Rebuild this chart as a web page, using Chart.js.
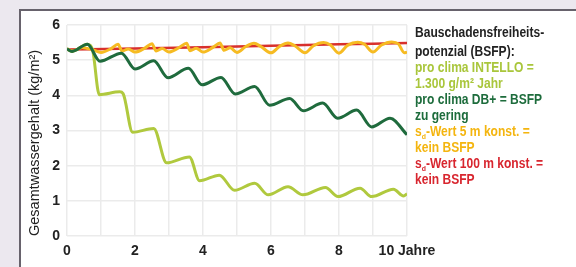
<!DOCTYPE html>
<html lang="de">
<head>
<meta charset="UTF-8">
<title>Gesamtwassergehalt</title>
<script src="https://cdn.jsdelivr.net/npm/chart.js"></script>
<style>
    body {
        margin: 0;
        width: 576px;
        height: 267px;
        overflow: hidden;
        position: relative;
        background: #ece8ef;
        font-family: "Liberation Sans", Arial, sans-serif;
    }
    .panel {
        position: absolute;
        left: 19px;
        top: 9px;
        width: 600px;
        height: 300px;
        background: #fff;
        border: 2px solid #67626c;
    }
    #chart {
        position: absolute;
        left: 0;
        top: 0;
    }
    .legend {
        position: absolute;
        left: 415px;
        top: 24px;
        font-family: "Liberation Sans", Arial, sans-serif;
        font-weight: bold;
        font-size: 14px;
        line-height: 16px;
        white-space: nowrap;
        transform: scaleX(0.86);
        transform-origin: left top;
    }
    .legend div { height: 16px; }
    .legend sub {
        font-size: 8px;
        line-height: 0;
        vertical-align: baseline;
        position: relative;
        top: 3px;
    }
    .c-head { color: #222; }
    .c-intello { color: #a9c63b; }
    .c-db { color: #1d6c3c; }
    .c-sd5 { color: #f4b50f; }
    .c-sd100 { color: #d8262f; }
</style>
</head>
<body>
<div class="panel"></div>
<canvas id="chart" width="576" height="267"></canvas>
<div class="legend">
    <div class="c-head" style="margin-bottom:3px">Bauschadensfreiheits-</div>
    <div class="c-head">potenzial (BSFP):</div>
    <div class="c-intello">pro clima INTELLO =</div>
    <div class="c-intello">1.300 g/m² Jahr</div>
    <div class="c-db">pro clima DB+ = BSFP</div>
    <div class="c-db">zu gering</div>
    <div class="c-sd5">s<sub>d</sub>-Wert 5 m konst. =</div>
    <div class="c-sd5">kein BSFP</div>
    <div class="c-sd100">s<sub>d</sub>-Wert 100 m konst. =</div>
    <div class="c-sd100">kein BSFP</div>
</div>

<script>
// x axis ticks (years)
const xTicks = [0, 2, 4, 6, 8, 10];
const xTickLabels = ['0', '2', '4', '6', '8', '10 Jahre'];

// pro clima DB+
const dbYears = [0, 0.15, 0.6, 0.97, 1.6, 2.0, 2.55, 2.97, 3.57, 3.97, 4.53, 4.95, 5.52, 5.96, 6.55, 6.95, 7.52, 7.96, 8.52, 8.96, 9.5, 10];
const dbValues = [5.32, 5.25, 5.45, 4.97, 5.2, 4.75, 4.98, 4.5, 4.77, 4.3, 4.51, 4.04, 4.25, 3.72, 3.91, 3.56, 3.78, 3.35, 3.58, 3.1, 3.35, 2.88];

// pro clima INTELLO
const intelloYears = [0, 0.15, 0.6, 0.75, 0.95, 1.55, 1.65, 1.93, 2.55, 2.93, 3.6, 3.9, 4.48, 4.93, 5.52, 5.92, 6.5, 6.94, 7.6, 7.97, 8.62, 8.96, 9.6, 9.9, 10];
const intelloValues = [5.32, 5.25, 5.45, 5.3, 4.02, 4.1, 4.05, 2.95, 3.06, 2.08, 2.25, 1.57, 1.73, 1.3, 1.5, 1.17, 1.4, 1.17, 1.38, 1.12, 1.36, 1.12, 1.33, 1.14, 1.2];

// sd-Wert 5 m
const sd5Years = [0, 0.15, 0.45, 0.6, 0.75, 1.0, 1.3, 1.5, 1.62, 1.8, 2.0, 2.3, 2.5, 2.62, 2.8, 3.0, 3.3, 3.52, 3.62, 3.8, 4.0, 4.3, 4.5, 4.62, 4.8, 5.0, 5.25, 5.5, 5.7, 6.0, 6.25, 6.5, 6.7, 7.0, 7.25, 7.55, 7.75, 8.0, 8.25, 8.55, 8.75, 9.0, 9.25, 9.55, 9.75, 9.92, 10];
const sd5Values = [5.32, 5.26, 5.36, 5.33, 5.3, 5.22, 5.33, 5.45, 5.26, 5.32, 5.23, 5.35, 5.47, 5.26, 5.33, 5.23, 5.36, 5.48, 5.27, 5.34, 5.23, 5.37, 5.49, 5.28, 5.35, 5.22, 5.38, 5.48, 5.39, 5.21, 5.39, 5.49, 5.41, 5.21, 5.41, 5.5, 5.43, 5.2, 5.42, 5.51, 5.45, 5.23, 5.43, 5.52, 5.46, 5.21, 5.23];

// sd-Wert 100 m
const sd100Years = [0, 2, 5, 8, 10];
const sd100Values = [5.3, 5.33, 5.39, 5.45, 5.49];

const pts = (xs, ys) => xs.map((x, i) => ({ x: x, y: ys[i] }));

const ctx = document.getElementById('chart').getContext('2d');

new Chart(ctx, {
    type: 'line',
    data: {
        datasets: [
            {
                label: 'pro clima DB+',
                data: pts(dbYears, dbValues),
                borderColor: '#1f6b3d',
                borderWidth: 3
            },
            {
                label: 'pro clima INTELLO',
                data: pts(intelloYears, intelloValues),
                borderColor: '#b0c93e',
                borderWidth: 3
            },
            {
                label: 'sd-Wert 5 m',
                data: pts(sd5Years, sd5Values),
                borderColor: '#f6bb22',
                borderWidth: 3
            },
            {
                label: 'sd-Wert 100 m',
                data: pts(sd100Years, sd100Values),
                borderColor: '#d8302c',
                borderWidth: 2.5
            }
        ]
    },
    options: {
        responsive: false,
        animation: false,
        elements: {
            point: { radius: 0 },
            line: { cubicInterpolationMode: 'monotone' }
        },
        layout: {
            padding: { left: 26, top: 25, right: 169, bottom: 0 }
        },
        plugins: {
            legend: { display: false },
            tooltip: { enabled: false }
        },
        scales: {
            x: {
                type: 'linear',
                min: 0,
                max: 10,
                border: { display: false },
                grid: { color: '#ebebeb', lineWidth: 1.5, drawTicks: false },
                ticks: {
                    stepSize: 1,
                    autoSkip: false,
                    maxRotation: 0,
                    padding: 7,
                    color: '#222',
                    font: { family: 'Liberation Sans', size: 14, weight: 'bold' },
                    callback: (v) => {
                        const i = xTicks.indexOf(v);
                        return i >= 0 ? xTickLabels[i] : '';
                    }
                },
                afterFit: (scale) => { scale.height = 31; }
            },
            y: {
                min: 0,
                max: 6,
                border: { display: false },
                grid: { color: '#ebebeb', lineWidth: 1.5, drawTicks: false },
                ticks: {
                    stepSize: 1,
                    padding: 7,
                    color: '#222',
                    font: { family: 'Liberation Sans', size: 14, weight: 'bold' }
                },
                title: {
                    display: true,
                    text: 'Gesamtwassergehalt (kg/m²)',
                    align: 'start',
                    color: '#222',
                    padding: 0,
                    font: { family: 'Liberation Sans', size: 14.5 }
                },
                afterFit: (scale) => { scale.width = 41; }
            }
        }
    }
});
</script>
</body>
</html>
